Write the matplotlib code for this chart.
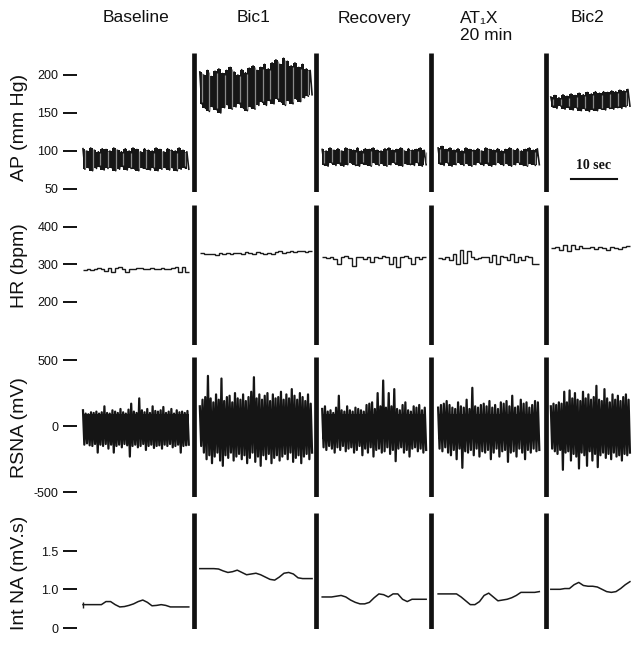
import numpy as np
import matplotlib
matplotlib.use('Agg')
import matplotlib.pyplot as plt

plt.rcParams['font.family'] = ['Liberation Sans', 'DejaVu Sans']

# ---------------- data ----------------
conditions = ['Baseline', 'Bic1', 'Recovery', 'AT₁X\n20 min', 'Bic2']
seg_start = [0.0, 25.4, 52.0, 77.2, 101.7]     # s
seg_dur = [23.0, 24.4, 22.6, 22.0, 17.2]       # s
separators = [24.1, 50.65, 75.65, 100.65]      # s

# arterial pressure: systolic / diastolic per beat (mm Hg)
ap_sys = [
    [103, 100, 104, 101, 99, 103, 102, 100, 104, 101, 99, 103, 100, 104, 102, 99, 103, 101, 100, 104, 102, 99, 103, 101, 100, 104, 101, 99],
    [204, 200, 206, 198, 205, 208, 202, 206, 210, 204, 200, 207, 203, 209, 212, 206, 210, 214, 208, 216, 220, 214, 222, 218, 212, 216, 210, 214, 208, 206],
    [102, 100, 104, 101, 103, 100, 104, 102, 101, 104, 100, 103, 102, 104, 101, 100, 103, 104, 101, 102, 104, 100, 103, 101, 102, 104, 101],
    [104, 106, 102, 104, 101, 103, 100, 104, 102, 101, 103, 100, 104, 102, 101, 103, 100, 102, 104, 101, 103, 100, 102, 104, 101, 103],
    [171, 173, 170, 174, 172, 175, 173, 176, 174, 177, 175, 178, 176, 178, 177, 179, 178, 180, 179, 181],
]
ap_dia = [
    [76, 78, 74, 77, 79, 75, 77, 78, 74, 76, 79, 75, 77, 76, 74, 78, 76, 75, 77, 74, 76, 78, 75, 77, 74, 76, 78, 76],
    [162, 156, 152, 158, 154, 150, 157, 160, 155, 158, 162, 156, 153, 158, 155, 160, 164, 160, 166, 162, 168, 164, 160, 166, 162, 168, 165, 170, 172, 174],
    [82, 80, 84, 81, 83, 80, 82, 84, 81, 80, 83, 82, 80, 84, 81, 83, 80, 82, 84, 81, 80, 83, 82, 81, 84, 80, 82],
    [83, 81, 84, 80, 82, 84, 81, 83, 80, 82, 84, 81, 83, 80, 82, 84, 81, 83, 80, 82, 84, 81, 80, 83, 81, 82],
    [158, 156, 159, 155, 157, 154, 156, 153, 155, 152, 154, 153, 155, 154, 156, 155, 157, 156, 158, 159],
]

# heart rate (bpm), beat-to-beat steps
hr = [
    [284, 286, 284, 288, 290, 286, 283, 289, 278, 289, 292, 287, 280, 288, 287, 289, 290, 287, 288, 289, 286, 288, 289, 287, 286, 290, 292, 280, 292, 280],
    [330, 328, 326, 328, 325, 330, 327, 329, 326, 331, 329, 327, 332, 330, 327, 333, 331, 326, 329, 327, 332, 334, 330, 333, 335, 332, 334, 336, 333, 336],
    [318, 316, 320, 315, 300, 318, 322, 316, 295, 318, 320, 314, 318, 305, 320, 316, 322, 318, 300, 320, 293, 318, 321, 316, 300, 318, 314, 318],
    [316, 315, 318, 312, 326, 300, 338, 304, 336, 318, 314, 316, 318, 320, 306, 324, 300, 322, 318, 312, 326, 305, 318, 312, 322, 318, 300, 300],
    [344, 346, 338, 352, 336, 350, 340, 348, 344, 342, 345, 341, 346, 343, 338, 347, 342, 340, 345, 348],
]

# renal sympathetic nerve activity (mV): upper / lower excursions
rsna_up = [
    [120, 95, 90, 105, 100, 110, 95, 105, 150, 100, 95, 120, 110, 100, 130, 105, 95, 125, 170, 110, 100, 210, 120, 105, 130, 100, 150, 115, 110, 120, 145, 100, 110, 130, 95, 120, 105, 110, 100, 115],
    [150, 200, 220, 380, 210, 180, 240, 200, 360, 190, 220, 230, 180, 250, 210, 200, 240, 190, 220, 260, 370, 210, 240, 200, 230, 250, 190, 240, 210, 220, 260, 200, 240, 210, 280, 230, 200, 250, 220, 190, 240, 170],
    [130, 150, 110, 120, 100, 140, 230, 120, 110, 150, 120, 110, 140, 130, 120, 110, 160, 170, 180, 130, 250, 150, 345, 140, 250, 150, 280, 130, 120, 160, 180, 120, 110, 150, 140, 160, 120, 140],
    [140, 160, 170, 190, 160, 140, 130, 180, 150, 140, 200, 130, 290, 150, 140, 160, 170, 150, 190, 140, 160, 130, 180, 170, 190, 150, 230, 140, 150, 200, 170, 180, 140, 160, 190, 180],
    [150, 170, 160, 180, 170, 260, 180, 270, 210, 250, 200, 190, 260, 210, 240, 200, 220, 305, 200, 190, 280, 210, 180, 240, 200, 230, 190, 220, 240, 200],
]
rsna_lo = [
    [-140, -130, -145, -150, -135, -200, -140, -150, -135, -170, -140, -200, -150, -140, -160, -135, -145, -230, -150, -140, -160, -150, -135, -180, -150, -140, -165, -150, -145, -170, -140, -150, -135, -160, -150, -140, -200, -150, -145, -140],
    [-150, -200, -250, -220, -280, -230, -200, -260, -300, -220, -240, -200, -260, -230, -210, -250, -220, -280, -240, -200, -270, -230, -300, -220, -250, -210, -280, -240, -220, -260, -230, -210, -250, -200, -270, -240, -220, -280, -230, -210, -250, -200],
    [-160, -180, -150, -170, -200, -160, -180, -150, -190, -170, -160, -200, -180, -150, -220, -170, -200, -160, -230, -180, -170, -200, -190, -160, -210, -180, -265, -170, -160, -200, -180, -230, -170, -160, -190, -170, -200, -180],
    [-170, -190, -160, -200, -220, -180, -250, -170, -315, -190, -200, -180, -220, -170, -230, -190, -200, -180, -250, -200, -170, -230, -190, -180, -270, -200, -190, -230, -170, -200, -250, -180, -200, -170, -190, -180],
    [-170, -190, -210, -180, -330, -200, -190, -260, -210, -230, -320, -200, -220, -300, -190, -260, -210, -310, -220, -200, -240, -210, -250, -200, -230, -220, -260, -210, -220, -200],
]

# integrated nerve activity (mV.s)
int_na = [
    [0.80, 0.80, 0.80, 0.80, 0.80, 0.84, 0.84, 0.80, 0.77, 0.775, 0.79, 0.81, 0.84, 0.86, 0.83, 0.785, 0.79, 0.80, 0.79, 0.77, 0.77, 0.77, 0.77, 0.77],
    [1.27, 1.27, 1.27, 1.27, 1.265, 1.24, 1.22, 1.23, 1.25, 1.22, 1.19, 1.20, 1.21, 1.19, 1.16, 1.13, 1.12, 1.16, 1.21, 1.22, 1.20, 1.15, 1.14, 1.14, 1.14],
    [0.90, 0.90, 0.90, 0.91, 0.92, 0.90, 0.86, 0.83, 0.81, 0.81, 0.83, 0.89, 0.94, 0.93, 0.90, 0.94, 0.94, 0.87, 0.84, 0.87, 0.87, 0.87, 0.87],
    [0.94, 0.94, 0.94, 0.94, 0.94, 0.90, 0.85, 0.80, 0.80, 0.84, 0.92, 0.95, 0.90, 0.85, 0.86, 0.87, 0.89, 0.92, 0.96, 0.96, 0.96, 0.96, 0.97],
    [1.00, 1.00, 1.00, 1.01, 1.01, 1.06, 1.09, 1.05, 1.04, 1.04, 1.03, 1.00, 0.97, 0.96, 0.97, 1.01, 1.06, 1.10],
]

ap_ticks = [50, 100, 150, 200]
hr_ticks = [200, 300, 400]
rsna_ticks = [-500, 0, 500]
ina_ticks = [0.49, 1.0, 1.5]
ina_tick_labels = ['0', '1.0', '1.5']

# ---------------- figure ----------------
W, H = 640, 646
fig = plt.figure(figsize=(W / 100, H / 100), dpi=100)

def px_axes(top, bottom, left=77, right=635):
    return fig.add_axes([left / W, 1 - bottom / H, (right - left) / W, (bottom - top) / H])

rows = [
    dict(rect=(53, 192), ylim=(46.05, 228.9), ticks=ap_ticks, labels=[str(v) for v in ap_ticks], ylabel='AP (mm Hg)', yc=127),
    dict(rect=(205, 345), ylim=(84.5, 457.9), ticks=hr_ticks, labels=[str(v) for v in hr_ticks], ylabel='HR (bpm)', yc=266),
    dict(rect=(357, 497), ylim=(-535.5, 522.7), ticks=rsna_ticks, labels=[str(v) for v in rsna_ticks], ylabel='RSNA (mV)', yc=428),
    dict(rect=(513, 629), ylim=(0.482, 1.996), ticks=ina_ticks, labels=ina_tick_labels, ylabel='Int NA (mV.s)', yc=573),
]

axes = []
for r in rows:
    ax = px_axes(*r['rect'])
    ax.set_xlim(-1.30, 120.0)
    ax.set_ylim(*r['ylim'])
    for s in ax.spines.values():
        s.set_visible(False)
    ax.set_xticks([])
    ax.set_yticks(r['ticks'])
    ax.set_yticklabels(r['labels'])
    ax.tick_params(axis='y', length=10, width=1.4, direction='out', pad=3.5, labelsize=9, colors='#111111')
    for t in separators:
        ax.axvline(t, color='#111111', lw=3.4, solid_capstyle='butt')
    fig.text(20 / W, 1 - r['yc'] / H, r['ylabel'], rotation=90, ha='center', va='center', fontsize=14, color='#111111')
    axes.append(ax)

ax_ap, ax_hr, ax_rsna, ax_ina = axes

def interleave(a, b):
    out = np.empty(len(a) + len(b))
    out[0::2] = a
    out[1::2] = b
    return out

for i in range(5):
    t0, d = seg_start[i], seg_dur[i]
    # AP: dark band between diastolic and systolic, with grey beat strokes
    y = interleave(ap_sys[i], ap_dia[i])
    t = np.linspace(t0, t0 + d, len(y))
    tb = t[0::2]
    ax_ap.fill_between(tb, ap_dia[i], ap_sys[i], step='mid', color='#161616', lw=0)
    ax_ap.plot(t, y, color='#161616', lw=1.2)
    ax_ap.vlines(t[1::4], np.array(ap_dia[i])[::2] + 2, np.array(ap_sys[i])[::2] - 2,
                 color='#8a8a8a', lw=0.9)
    # HR
    edges = np.linspace(t0, t0 + d, len(hr[i]) + 1)
    ax_hr.stairs(hr[i], edges, baseline=None, color='#1a1a1a', lw=1.0)
    # RSNA
    y = interleave(rsna_up[i], rsna_lo[i])
    t = np.linspace(t0, t0 + d, len(y))
    ax_rsna.plot(t, y, color='#151515', lw=1.6)
    ax_rsna.fill_between(t, -100, 90, color='#151515', lw=0)
    # Int NA
    t = np.linspace(t0, t0 + d, len(int_na[i]))
    ax_ina.plot(t, int_na[i], color='#1a1a1a', lw=1.1)
    if i == 0:
        ax_ina.plot(t[0], int_na[i][0], marker='|', ms=5, mew=1.0, color='#1a1a1a')

# scale bar
ax_ap.plot([106.0, 116.0], [63, 63], color='#111111', lw=1.5)
ax_ap.text(111.0, 72, '10 sec', ha='center', va='bottom', fontsize=10, fontweight='bold',
           family=['Liberation Serif', 'DejaVu Serif'], color='#111111')

# column headers
hdr_x = [136, 254, 374, 460, 588]
for i, name in enumerate(conditions):
    if '\n' in name:
        l1, l2 = name.split('\n')
        fig.text(hdr_x[i] / W, 1 - 18 / H, l1, ha='left', va='center', fontsize=12.5, color='#111111')
        fig.text(hdr_x[i] / W, 1 - 35 / H, l2, ha='left', va='center', fontsize=12.5, color='#111111')
    else:
        fig.text(hdr_x[i] / W, 1 - 18 / H, name, ha='center', va='center', fontsize=12.5, color='#111111')

fig.savefig('out.png', dpi=100)
